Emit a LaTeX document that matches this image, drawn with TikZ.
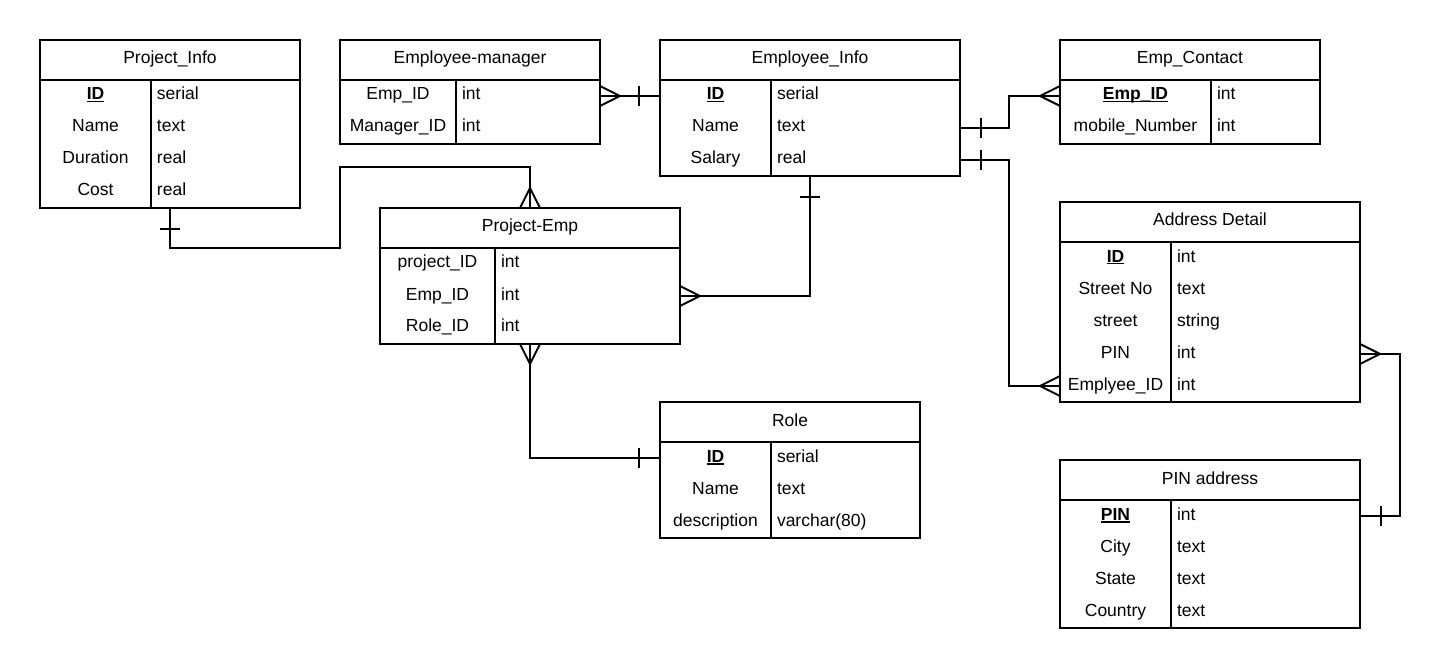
\documentclass[tikz,border=0pt]{standalone}
\usepackage{fontspec}
\setmainfont{Liberation Sans}
\usetikzlibrary{matrix,positioning,calc}
\newcommand{\pk}[1]{\setbox0\hbox{\bfseries #1}\rlap{\rule[-2.5pt]{\wd0}{1.4pt}}\box0}

\begin{document}
\begin{tikzpicture}[x=1pt,y=-1pt,line width=2pt,font=\fontsize{17.5}{20}\selectfont,
  hdr/.style={draw,anchor=north west,minimum height=40pt,inner sep=0pt,outer sep=0pt,
    text height=12pt,text depth=4pt},
  cell/.style={minimum height=32pt,inner sep=0pt,outer sep=0pt,text height=12pt,
    text depth=4pt,anchor=center},
  tbl/.style n args={3}{matrix of nodes,draw,inner sep=0pt,outer sep=0pt,
    below=0pt of #1,nodes={cell},
    column 1/.style={nodes={minimum width=#2}},
    column 2/.style={nodes={text width=#3,align=left,inner xsep=6pt}}}
]
\useasboundingbox (0,0) rectangle (1441,668);

\node[hdr,minimum width=260pt] (pi) at (40,40) {Project\_Info};
\matrix[tbl={pi}{111pt}{137pt}] (pib) {
  \pk{ID} & serial \\
  Name & text \\
  Duration & real \\
  Cost & real \\
};
\draw (pib-1-2.north west) -- (pib-4-2.south west);

\node[hdr,minimum width=260pt] (em) at (340,40) {Employee-manager};
\matrix[tbl={em}{116pt}{132pt}] (emb) {
  Emp\_ID & int \\
  Manager\_ID & int \\
};
\draw (emb-1-2.north west) -- (emb-2-2.south west);

\node[hdr,minimum width=300pt] (ei) at (660,40) {Employee\_Info};
\matrix[tbl={ei}{111pt}{177pt}] (eib) {
  \pk{ID} & serial \\
  Name & text \\
  Salary & real \\
};
\draw (eib-1-2.north west) -- (eib-3-2.south west);

\node[hdr,minimum width=260pt] (ec) at (1060,40) {Emp\_Contact};
\matrix[tbl={ec}{151pt}{97pt}] (ecb) {
  \pk{Emp\_ID} & int \\
  mobile\_Number & int \\
};
\draw (ecb-1-2.north west) -- (ecb-2-2.south west);

\node[hdr,minimum width=300pt] (pe) at (380,208) {Project-Emp};
\matrix[tbl={pe}{115pt}{173pt}] (peb) {
  project\_ID & int \\
  Emp\_ID & int \\
  Role\_ID & int \\
};
\draw (peb-1-2.north west) -- (peb-3-2.south west);

\node[hdr,minimum width=260pt] (ro) at (660,402) {Role};
\matrix[tbl={ro}{111pt}{137pt}] (rob) {
  \pk{ID} & serial \\
  Name & text \\
  description & varchar(80) \\
};
\draw (rob-1-2.north west) -- (rob-3-2.south west);

\node[hdr,minimum width=300pt] (ad) at (1060,202) {Address Detail};
\matrix[tbl={ad}{111pt}{177pt}] (adb) {
  \pk{ID} & int \\
  Street No & text \\
  street & string \\
  PIN & int \\
  Emplyee\_ID & int \\
};
\draw (adb-1-2.north west) -- (adb-5-2.south west);

\node[hdr,minimum width=300pt] (pa) at (1060,460) {PIN address};
\matrix[tbl={pa}{111pt}{177pt}] (pab) {
  \pk{PIN} & int \\
  City & text \\
  State & text \\
  Country & text \\
};
\draw (pab-1-2.north west) -- (pab-4-2.south west);

\draw (pib.south) -- ++(0,40) -| ($(pe.north)+(-190,-41)$) -| (pe.north);
\draw ($(pib.south)+(-10,21)$) -- ++(20,0);
\draw ($(pe.north)+(-10,0)$) -- ++(10,-20) -- ++(10,20);

\draw (emb-1-2.east) -- (eib-1-1.west);
\draw ($(emb-1-2.east)+(0,-10)$) -- ++(20,10) -- ++(-20,10);
\draw ($(eib-1-1.west)+(-21,-10)$) -- ++(0,20);

\draw (eib-2-2.east) -- ++(49,0) |- (ecb-1-1.west);
\draw ($(eib-2-2.east)+(21,-10)$) -- ++(0,20);
\draw ($(ecb-1-1.west)+(0,-10)$) -- ++(-20,10) -- ++(20,10);

\draw (eib-3-2.east) -- ++(49,0) |- (adb-5-1.west);
\draw ($(eib-3-2.east)+(21,-10)$) -- ++(0,20);
\draw ($(adb-5-1.west)+(0,-10)$) -- ++(-20,10) -- ++(20,10);

\draw (eib.south) |- (peb-2-2.east);
\draw ($(eib.south)+(-10,21)$) -- ++(20,0);
\draw ($(peb-2-2.east)+(0,-10)$) -- ++(20,10) -- ++(-20,10);

\draw (peb.south) |- (rob-1-1.west);
\draw ($(peb.south)+(-10,0)$) -- ++(10,20) -- ++(10,-20);
\draw ($(rob-1-1.west)+(-21,-10)$) -- ++(0,20);

\draw (adb-4-2.east) -- ++(40,0) |- (pab-1-2.east);
\draw ($(adb-4-2.east)+(0,-10)$) -- ++(20,10) -- ++(-20,10);
\draw ($(pab-1-2.east)+(21,-10)$) -- ++(0,20);
\end{tikzpicture}
\end{document}
